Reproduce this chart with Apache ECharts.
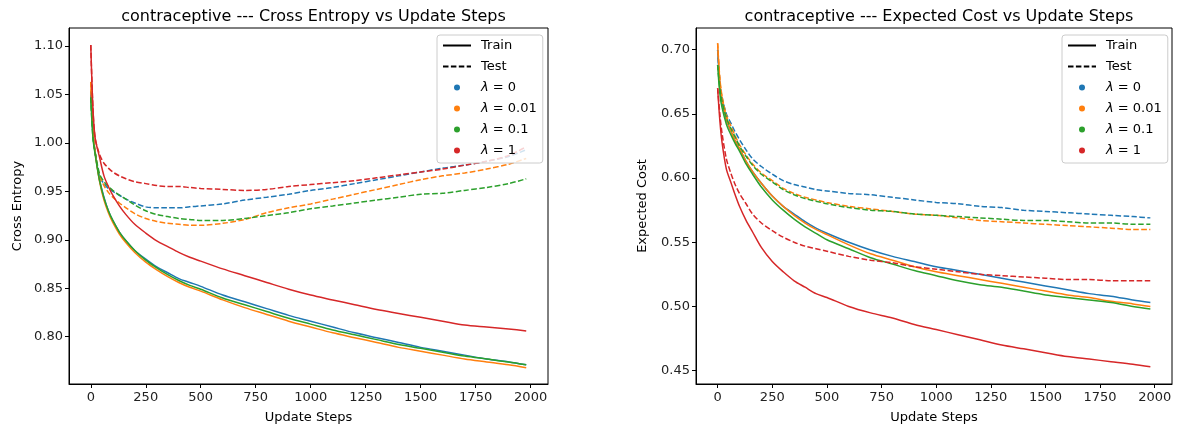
<!DOCTYPE html>
<html>
<head>
<meta charset="utf-8">
<title>contraceptive</title>
<script src="https://cdn.jsdelivr.net/npm/echarts@6/dist/echarts.min.js"></script>
<style>
html, body { margin: 0; padding: 0; background: #fff; }
#main { width: 1177px; height: 431px; }
</style>
</head>
<body>
<div id="main"></div>
<script>
// update steps (x) shared by every curve
var steps = [0, 10, 20, 40, 60, 80, 100, 130, 160, 200, 250, 300, 350, 400, 450, 500,
	600, 700, 800, 900, 1000, 1100, 1200, 1300, 1400, 1500, 1600, 1700, 1800, 1900, 1980];

// cross entropy, train
var ceTrain0 = [1.053, 1.010, 0.990, 0.962, 0.944, 0.930, 0.920, 0.908, 0.899, 0.889, 0.880, 0.872, 0.866, 0.860, 0.856, 0.852,
	0.843, 0.836, 0.829, 0.822, 0.816, 0.810, 0.804, 0.799, 0.794, 0.789, 0.785, 0.781, 0.777, 0.774, 0.771];
var ceTrain001 = [1.063, 1.012, 0.990, 0.960, 0.941, 0.928, 0.918, 0.906, 0.897, 0.887, 0.877, 0.869, 0.862, 0.856, 0.851, 0.847,
	0.838, 0.830, 0.823, 0.816, 0.810, 0.804, 0.799, 0.794, 0.789, 0.785, 0.781, 0.777, 0.774, 0.771, 0.768];
var ceTrain01 = [1.047, 1.005, 0.988, 0.961, 0.943, 0.930, 0.920, 0.908, 0.899, 0.889, 0.879, 0.871, 0.864, 0.858, 0.853, 0.849,
	0.840, 0.833, 0.826, 0.819, 0.813, 0.807, 0.802, 0.797, 0.792, 0.788, 0.784, 0.780, 0.777, 0.774, 0.771];
var ceTrain1 = [1.101, 1.035, 1.005, 0.985, 0.966, 0.955, 0.946, 0.935, 0.926, 0.916, 0.907, 0.899, 0.893, 0.887, 0.882, 0.878,
	0.870, 0.863, 0.856, 0.849, 0.843, 0.838, 0.833, 0.828, 0.824, 0.820, 0.816, 0.812, 0.810, 0.808, 0.806];
// cross entropy, test
var ceTest0 = [1.053, 1.010, 0.990, 0.965, 0.958, 0.953, 0.950, 0.946, 0.942, 0.938, 0.934, 0.933, 0.933, 0.933, 0.934, 0.935,
	0.937, 0.941, 0.944, 0.947, 0.951, 0.954, 0.958, 0.962, 0.966, 0.970, 0.974, 0.977, 0.981, 0.986, 0.993];
var ceTest001 = [1.063, 1.012, 0.990, 0.966, 0.956, 0.949, 0.944, 0.938, 0.933, 0.927, 0.922, 0.919, 0.917, 0.916, 0.915, 0.915,
	0.917, 0.921, 0.928, 0.933, 0.937, 0.942, 0.947, 0.952, 0.957, 0.962, 0.966, 0.969, 0.973, 0.978, 0.984];
var ceTest01 = [1.047, 1.005, 0.990, 0.968, 0.960, 0.955, 0.951, 0.946, 0.942, 0.936, 0.930, 0.926, 0.924, 0.922, 0.921, 0.920,
	0.920, 0.922, 0.925, 0.928, 0.932, 0.935, 0.938, 0.941, 0.944, 0.947, 0.948, 0.951, 0.954, 0.958, 0.963];
var ceTest1 = [1.101, 1.035, 1.005, 0.988, 0.979, 0.974, 0.970, 0.966, 0.963, 0.960, 0.958, 0.956, 0.955, 0.955, 0.954, 0.953,
	0.952, 0.951, 0.952, 0.955, 0.957, 0.959, 0.961, 0.964, 0.967, 0.970, 0.973, 0.977, 0.981, 0.987, 0.996];

// expected cost, train
var ecTrain0 = [0.700, 0.672, 0.660, 0.645, 0.637, 0.629, 0.623, 0.613, 0.605, 0.596, 0.586, 0.578, 0.572, 0.566, 0.561, 0.557,
	0.550, 0.544, 0.539, 0.535, 0.531, 0.528, 0.525, 0.522, 0.519, 0.516, 0.513, 0.510, 0.508, 0.505, 0.503];
var ecTrain001 = [0.705, 0.676, 0.662, 0.646, 0.637, 0.629, 0.623, 0.613, 0.605, 0.596, 0.586, 0.578, 0.571, 0.565, 0.560, 0.556,
	0.548, 0.541, 0.536, 0.531, 0.527, 0.524, 0.521, 0.518, 0.515, 0.512, 0.509, 0.507, 0.504, 0.502, 0.500];
var ecTrain01 = [0.688, 0.666, 0.655, 0.642, 0.634, 0.627, 0.621, 0.611, 0.603, 0.593, 0.583, 0.575, 0.568, 0.562, 0.557, 0.552,
	0.545, 0.538, 0.533, 0.528, 0.524, 0.520, 0.517, 0.515, 0.512, 0.509, 0.507, 0.505, 0.503, 0.500, 0.498];
var ecTrain1 = [0.670, 0.645, 0.628, 0.607, 0.597, 0.587, 0.578, 0.567, 0.558, 0.546, 0.535, 0.527, 0.520, 0.515, 0.510, 0.507,
	0.500, 0.495, 0.491, 0.486, 0.482, 0.478, 0.474, 0.470, 0.467, 0.464, 0.461, 0.459, 0.457, 0.455, 0.453];
// expected cost, test
var ecTest0 = [0.700, 0.675, 0.663, 0.650, 0.643, 0.636, 0.630, 0.622, 0.615, 0.609, 0.603, 0.598, 0.595, 0.593, 0.591, 0.590,
	0.588, 0.587, 0.585, 0.583, 0.581, 0.580, 0.578, 0.577, 0.575, 0.574, 0.573, 0.572, 0.571, 0.570, 0.569];
var ecTest001 = [0.705, 0.678, 0.664, 0.649, 0.641, 0.633, 0.626, 0.618, 0.611, 0.604, 0.598, 0.592, 0.588, 0.585, 0.583, 0.581,
	0.578, 0.576, 0.574, 0.572, 0.571, 0.569, 0.567, 0.566, 0.565, 0.564, 0.563, 0.562, 0.561, 0.560, 0.560];
var ecTest01 = [0.688, 0.670, 0.660, 0.647, 0.639, 0.632, 0.625, 0.617, 0.610, 0.603, 0.597, 0.591, 0.587, 0.584, 0.582, 0.580,
	0.577, 0.575, 0.574, 0.572, 0.571, 0.570, 0.569, 0.568, 0.567, 0.567, 0.566, 0.565, 0.565, 0.564, 0.564];
var ecTest1 = [0.670, 0.650, 0.635, 0.615, 0.604, 0.595, 0.588, 0.580, 0.572, 0.565, 0.559, 0.554, 0.550, 0.547, 0.545, 0.543,
	0.539, 0.536, 0.534, 0.531, 0.529, 0.527, 0.525, 0.524, 0.523, 0.522, 0.521, 0.521, 0.520, 0.520, 0.520];

var lambdaNames = ['λ = 0', 'λ = 0.01', 'λ = 0.1', 'λ = 1'];
var colors = ['#1f77b4', '#ff7f0e', '#2ca02c', '#d62728'];

// tick labels
var xTicks = [0, 250, 500, 750, 1000, 1250, 1500, 1750, 2000];
var ceTicks = [0.80, 0.85, 0.90, 0.95, 1.00, 1.05, 1.10];
var ecTicks = [0.45, 0.50, 0.55, 0.60, 0.65, 0.70];

var FONT = 'DejaVu Sans';
var dashed = [5.5, 2.4];

function pairs(ys) {
	return steps.map(function(s, i) { return [s, ys[i]]; });
}

function curve(name, color, ys, idx, isTest) {
	return {
		name : name,
		type : 'line',
		xAxisIndex : idx,
		yAxisIndex : idx,
		data : pairs(ys),
		showSymbol : false,
		symbol : 'none',
		smooth : 0.3,
		silent : true,
		itemStyle : { color : color },
		lineStyle : { color : color, width : 1.5, type : isTest ? dashed : 'solid' }
	};
}

function xAxisOf(idx) {
	return {
		type : 'value',
		gridIndex : idx,
		min : -99,
		max : 2079,
		name : 'Update Steps',
		nameLocation : 'middle',
		nameGap : 27,
		nameTextStyle : { fontFamily : FONT, fontSize : 13, color : '#000' },
		axisLine : { show : true, onZero : false, lineStyle : { color : '#000', width : 1 } },
		axisTick : { show : true, length : 4, lineStyle : { color : '#000' }, customValues : xTicks },
		axisLabel : {
			fontFamily : FONT, fontSize : 13, color : '#222', margin : 7, customValues : xTicks,
			formatter : function(v) { return String(v); }
		},
		splitLine : { show : false }
	};
}

function yAxisOf(idx, name, ticks, min, max, gap) {
	return {
		type : 'value',
		gridIndex : idx,
		min : min,
		max : max,
		name : name,
		nameLocation : 'middle',
		nameGap : gap,
		nameTextStyle : { fontFamily : FONT, fontSize : 13, color : '#000' },
		axisLine : { show : true, onZero : false, lineStyle : { color : '#000', width : 1 } },
		axisTick : { show : true, length : 4, lineStyle : { color : '#000' }, customValues : ticks },
		axisLabel : {
			fontFamily : FONT, fontSize : 13, color : '#222', margin : 6, customValues : ticks,
			formatter : function(v) { return v.toFixed(2); }
		},
		splitLine : { show : false }
	};
}

function legendOf(left) {
	return {
		orient : 'vertical',
		left : left,
		top : 35,
		padding : [4, 6, 6, 5],
		itemWidth : 28,
		itemHeight : 6,
		itemGap : 8,
		backgroundColor : 'rgba(255,255,255,0.8)',
		borderColor : '#cccccc',
		borderWidth : 1,
		borderRadius : 3,
		selectedMode : false,
		data : [
			{ name : 'Train', itemStyle : { opacity : 0 } },
			{ name : 'Test', itemStyle : { opacity : 0 } }
		].concat(lambdaNames.map(function(n) { return { name : n, icon : 'circle' }; })),
		formatter : function(name) {
			if (name.charAt(0) === 'λ') return '{i|λ}' + name.substring(1);
			return name;
		},
		textStyle : {
			fontFamily : FONT, fontSize : 13, color : '#000', padding : [0, 0, 0, 5],
			rich : { i : { fontFamily : FONT, fontSize : 13, fontStyle : 'italic', color : '#000' } }
		}
	};
}

var ceTrain = [ceTrain0, ceTrain001, ceTrain01, ceTrain1];
var ceTest = [ceTest0, ceTest001, ceTest01, ceTest1];
var ecTrain = [ecTrain0, ecTrain001, ecTrain01, ecTrain1];
var ecTest = [ecTest0, ecTest001, ecTest01, ecTest1];

var series = [];
for (var k = 0; k < 4; k++) {
	series.push(curve(lambdaNames[k], colors[k], ceTrain[k], 0, false));
	series.push(curve(lambdaNames[k], colors[k], ceTest[k], 0, true));
	series.push(curve(lambdaNames[k], colors[k], ecTrain[k], 1, false));
	series.push(curve(lambdaNames[k], colors[k], ecTest[k], 1, true));
}
// empty series, only for the Train / Test legend entries
series.push({ name : 'Train', type : 'line', data : [], symbol : 'none', showSymbol : false, itemStyle : { color : '#000' },
	lineStyle : { color : '#000', width : 1.5, type : 'solid' } });
series.push({ name : 'Test', type : 'line', data : [], symbol : 'none', showSymbol : false, itemStyle : { color : '#000' },
	lineStyle : { color : '#000', width : 1.5, type : dashed } });

var option = {
	animation : false,
	backgroundColor : '#fff',
	title : [
		{ text : 'contraceptive --- Cross Entropy vs Update Steps', left : 308.5, top : 4, textAlign : 'center',
			textStyle : { fontFamily : FONT, fontSize : 16, fontWeight : 'normal', color : '#000' } },
		{ text : 'contraceptive --- Expected Cost vs Update Steps', left : 934, top : 4, textAlign : 'center',
			textStyle : { fontFamily : FONT, fontSize : 16, fontWeight : 'normal', color : '#000' } }
	],
	grid : [
		{ left : 69, right : 629, top : 28, bottom : 47, show : true, borderColor : '#000', borderWidth : 1 },
		{ left : 696, right : 5, top : 28, bottom : 47, show : true, borderColor : '#000', borderWidth : 1 }
	],
	xAxis : [xAxisOf(0), xAxisOf(1)],
	yAxis : [
		yAxisOf(0, 'Cross Entropy', ceTicks, 0.7512, 1.1186, 45),
		yAxisOf(1, 'Expected Cost', ecTicks, 0.4396, 0.7169, 47)
	],
	legend : [legendOf(437), legendOf(1062)],
	series : series
};

var myChart = echarts.init(document.getElementById('main'), null, { renderer : 'canvas' });
myChart.setOption(option);
</script>
</body>
</html>
